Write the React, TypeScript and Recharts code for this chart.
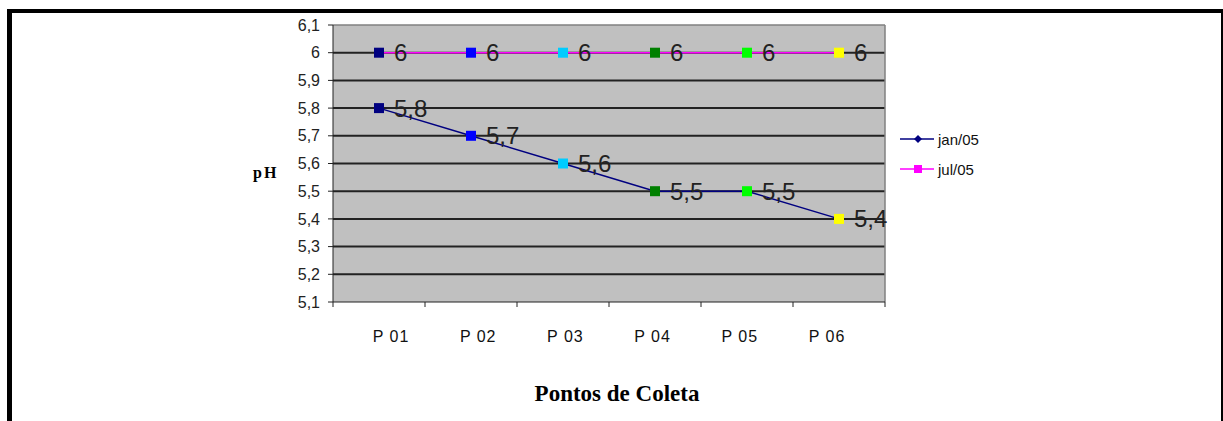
import React from 'react';
import {
  LineChart, Line, XAxis, YAxis, CartesianGrid, ReferenceLine, LabelList, Legend,
} from 'recharts';

// pontos de coleta
const categories = ['P 01', 'P 02', 'P 03', 'P 04', 'P 05', 'P 06'];
// pH por campanha
const jan05 = [5.8, 5.7, 5.6, 5.5, 5.5, 5.4];
const jul05 = [6, 6, 6, 6, 6, 6];
// cor de cada ponto (Excel "vary colors by point")
const pointColors = ['#000080', '#0000FF', '#00CCFF', '#008000', '#00FF00', '#FFFF00'];
const yTicks = [5.1, 5.2, 5.3, 5.4, 5.5, 5.6, 5.7, 5.8, 5.9, 6, 6.1];
const boundaryTicks = [0, 1, 2, 3, 4, 5, 6];

const data = categories.map((name, i) => ({ name, x: i + 0.5, jan: jan05[i], jul: jul05[i] }));

const fmt = (v: number) => String(Number(v.toFixed(1))).replace('.', ',');

const sans = '"Liberation Sans", Arial, sans-serif';
const serif = '"Liberation Serif", "Times New Roman", serif';

const SquareDot = (props: any) => {
  const { cx, cy, index } = props;
  if (cx == null || cy == null) return <g key={`d-${index}`} />;
  return <rect key={`d-${index}`} x={cx - 5} y={cy - 5} width={10} height={10} fill={pointColors[index]} />;
};

const ValueLabel = (props: any) => {
  const { x, y, value } = props;
  return (
    <text x={x + 15} y={y} dominantBaseline="central" fontFamily={sans} fontSize={24} fill="#222">
      {fmt(value)}
    </text>
  );
};

const markerFor: Record<string, 'diamond' | 'square'> = { 'jan/05': 'diamond', 'jul/05': 'square' };

const LegendBox = (props: any) => {
  const { payload } = props;
  return (
    <div>
      {(payload || []).map((p: any) => (
        <div key={p.value} style={{ display: 'flex', alignItems: 'center', height: 30 }}>
          <svg width={36} height={14} style={{ marginRight: 2 }}>
            <line x1={0} y1={7} x2={34} y2={7} stroke={p.color} strokeWidth={1.5} />
            {markerFor[p.value] === 'diamond' ? (
              <polygon points="18,3 22,7 18,11 14,7" fill={p.color} />
            ) : (
              <rect x={14} y={3} width={8} height={8} fill={p.color} />
            )}
          </svg>
          <span style={{ fontFamily: sans, fontSize: 15, color: '#111' }}>{p.value}</span>
        </div>
      ))}
    </div>
  );
};

export default function App() {
  return (
    <div style={{ position: 'absolute', left: 0, top: 0, width: 1223, height: 421, background: '#fff' }}>
      <div
        style={{
          position: 'absolute', left: 7, top: 9, width: 1216, height: 412, boxSizing: 'border-box',
          borderLeft: '5px solid #000', borderTop: '4px solid #000', borderRight: '2px solid #000',
        }}
      />
      <div style={{ position: 'absolute', left: 0, top: 0 }}>
        <LineChart width={1223} height={421} data={data} margin={{ top: 25, right: 338, bottom: 83, left: 0 }}>
          <CartesianGrid
            xAxisId="a"
            vertical={false}
            horizontalValues={yTicks.slice(1, -1)}
            stroke="#222"
            strokeWidth={2}
            fill="#C0C0C0"
            fillOpacity={1}
          />
          <XAxis
            xAxisId="a"
            type="number"
            dataKey="x"
            domain={[0, 6]}
            ticks={boundaryTicks}
            interval={0}
            tickFormatter={() => ''}
            tickSize={5}
            stroke="#222"
            height={6}
          />
          <XAxis
            xAxisId="b"
            type="number"
            dataKey="x"
            domain={[-0.165, 6.165]}
            ticks={categories.map((_, i) => i + 0.5)}
            interval={0}
            tickFormatter={(v: number) => categories[Math.round(v - 0.5)] ?? ''}
            axisLine={false}
            tickLine={false}
            tickSize={0}
            tickMargin={23}
            height={30}
            tick={{ fontFamily: sans, fontSize: 16, fill: '#111', letterSpacing: 1 }}
          />
          <YAxis
            type="number"
            domain={[5.1, 6.1]}
            ticks={yTicks}
            interval={0}
            allowDataOverflow
            tickFormatter={fmt}
            tickSize={5}
            tickMargin={8}
            width={333}
            stroke="#222"
            tick={{ fontFamily: sans, fontSize: 16, fill: '#222' }}
          />
          <ReferenceLine xAxisId="a" y={6.1} stroke="#808080" strokeWidth={1.5} />
          <ReferenceLine xAxisId="a" x={6} stroke="#808080" strokeWidth={1.5} />
          <Legend
            layout="horizontal"
            align="center"
            verticalAlign="middle"
            content={LegendBox}
            wrapperStyle={{ position: 'absolute', left: 900, top: 124, width: 120 }}
          />
          <Line
            xAxisId="a"
            name="jan/05"
            dataKey="jan"
            stroke="#000080"
            strokeWidth={1.5}
            dot={SquareDot}
            activeDot={false}
            isAnimationActive={false}
          >
            <LabelList dataKey="jan" content={ValueLabel} />
          </Line>
          <Line
            xAxisId="a"
            name="jul/05"
            dataKey="jul"
            stroke="#FF00FF"
            strokeWidth={1.5}
            dot={SquareDot}
            activeDot={false}
            isAnimationActive={false}
          >
            <LabelList dataKey="jul" content={ValueLabel} />
          </Line>
        </LineChart>
      </div>
      <svg width={1223} height={421} style={{ position: 'absolute', left: 0, top: 0, pointerEvents: 'none' }}>
        <text x={253} y={178} fontFamily={serif} fontWeight="bold" fontSize={16} letterSpacing={2}>pH</text>
        <text x={617} y={401} textAnchor="middle" fontFamily={serif} fontWeight="bold" fontSize={23}>
          Pontos de Coleta
        </text>
      </svg>
    </div>
  );
}
